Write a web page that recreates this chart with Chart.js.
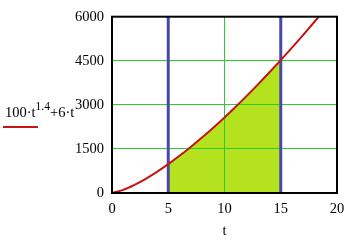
<!DOCTYPE html>
<html>
<head>
<meta charset="utf-8">
<script src="https://cdn.jsdelivr.net/npm/chart.js@4"></script>
<style>
body{margin:0;background:#fff}
#wrap{position:relative;width:352px;height:245px}
#legend{position:absolute;left:5px;top:101px;font-family:"Liberation Serif",serif;font-size:14.5px;color:#000;white-space:nowrap}
#legend sup{font-size:11.5px;position:relative;top:-1px}
#legline{position:absolute;left:3px;top:126px;width:35px;height:2px;background:#c41414}
</style>
</head>
<body>
<div id="wrap">
<canvas id="chart"></canvas>
<div id="legend">100·t<sup>1.4</sup>+6·t</div>
<div id="legline"></div>
</div>
<script>

// curve values, t = 0..20
let tValues = [0,1,2,3,4,5,6,7,8,9,10,11,12,13,14,15,16,17,18,19,20]
let fValues = [0,106,276,484,720,982,1265,1567,1886,2221,2572,2936,3314,3705,4108,4522,4946,5383,5828,6285,6749]

let lowerBound = 5
let upperBound = 15

let xTicks = [0,5,10,15,20]
let yTicks = [0,1500,3000,4500,6000]

let curve = tValues.map((t,i)=>({x:t,y:fValues[i]}))
let area = curve.filter(p=>p.x>=lowerBound && p.x<=upperBound)

function vline(x){
return [{x:x,y:yTicks[0]},{x:x,y:yTicks[yTicks.length-1]}]
}

let frame = {
id:"frame",
afterDraw(chart){
let a = chart.chartArea
let ctx = chart.ctx
ctx.save()
ctx.strokeStyle = "#000"
ctx.lineWidth = 2
ctx.strokeRect(a.left,a.top,a.right-a.left,a.bottom-a.top)
ctx.restore()
}
}

let ctx = document.getElementById("chart").getContext("2d")

new Chart(ctx,{

type:"line",

data:{
datasets:[
{
data:curve,
borderColor:"#c41414",
borderWidth:2,
pointRadius:0,
fill:false,
cubicInterpolationMode:"monotone",
order:0
},
{
data:vline(lowerBound),
borderColor:"#4848a8",
borderWidth:3,
pointRadius:0,
fill:false,
order:1
},
{
data:vline(upperBound),
borderColor:"#4848a8",
borderWidth:3,
pointRadius:0,
fill:false,
order:1
},
{
data:area,
borderWidth:0,
borderColor:"rgba(0,0,0,0)",
backgroundColor:"#b4e21e",
pointRadius:0,
fill:"origin",
cubicInterpolationMode:"monotone",
order:2
}
]
},

options:{
responsive:true,
maintainAspectRatio:false,
animation:false,
events:[],
layout:{padding:{left:0,top:13,right:15,bottom:0}},
plugins:{
legend:{display:false},
tooltip:{enabled:false},
filler:{drawTime:"beforeDraw"}
},
scales:{
x:{
type:"linear",
min:xTicks[0],
max:xTicks[xTicks.length-1],
afterBuildTicks(s){s.ticks = xTicks.map(v=>({value:v}))},
afterFit(s){s.height = 52},
grid:{color:"#2ccc2c",lineWidth:1,drawTicks:false},
border:{display:false},
ticks:{padding:7,color:"#000",font:{family:"Liberation Serif",size:14.5},callback:v=>String(v)},
title:{display:true,text:"t",color:"#000",font:{family:"Liberation Serif",size:14.5},padding:{top:0,bottom:5}}
},
y:{
min:yTicks[0],
max:yTicks[yTicks.length-1],
afterBuildTicks(s){s.ticks = yTicks.map(v=>({value:v}))},
afterFit(s){s.width = 112},
grid:{color:"#2ccc2c",lineWidth:1,drawTicks:false},
border:{display:false},
ticks:{padding:8,color:"#000",font:{family:"Liberation Serif",size:14.5},callback:v=>String(v)}
}
}
},

plugins:[frame]

})

</script>
</body>
</html>
